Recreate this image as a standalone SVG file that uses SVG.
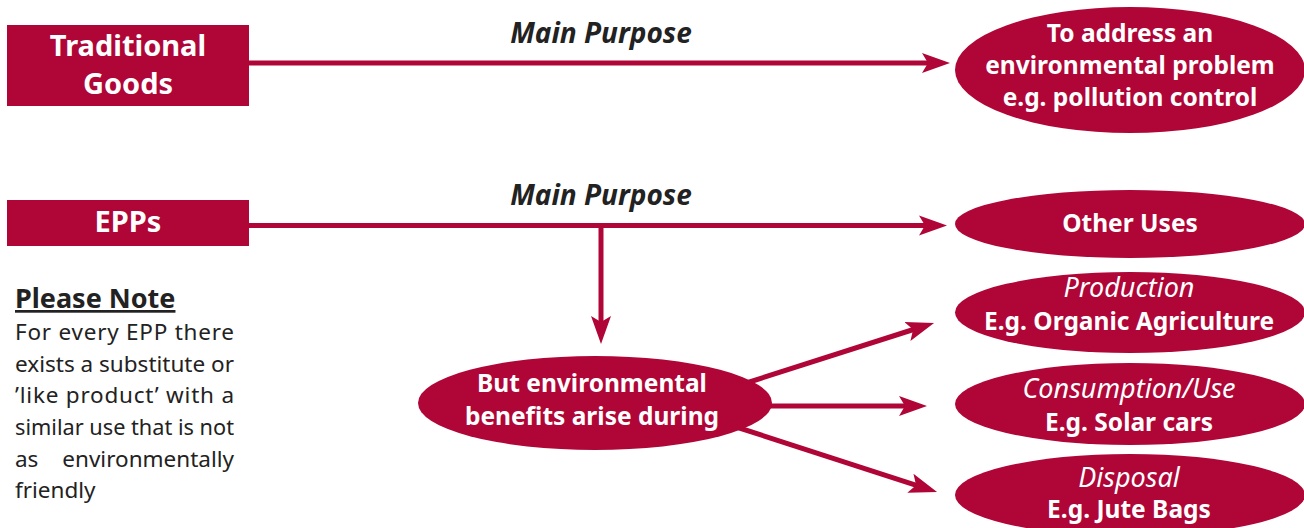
<svg xmlns="http://www.w3.org/2000/svg" width="1304" height="528" viewBox="0 0 1304 528">
<style>
.box{fill:#B00537}
.lbl{font-family:"Noto Sans","Liberation Sans",sans-serif;font-weight:bold;fill:#fff;text-anchor:middle}
.big{font-size:29px}
.mid{font-size:24.5px}
.it{font-family:"Noto Sans","Liberation Sans",sans-serif;font-style:italic;font-size:27px;fill:#fff;text-anchor:middle}
.mp{font-family:"Noto Sans","Liberation Sans",sans-serif;font-style:italic;font-weight:bold;font-size:28px;fill:#222;text-anchor:middle}
.note{font-family:"Noto Sans","Liberation Sans",sans-serif;font-size:22.5px;fill:#222}
.conn{stroke:#B00537;stroke-width:5;fill:none;marker-end:url(#ah)}
</style>
<defs>
<marker id="ah" markerUnits="userSpaceOnUse" markerWidth="30" markerHeight="22" viewBox="0 0 30 22" refX="8" refY="11" orient="auto">
<path d="M0,1 L28,11 L0,21 L6,11 Z" fill="#B00537"/>
</marker>
</defs>
<rect width="1304" height="528" fill="#fff"/>
<g id="connectors">
<line class="conn" x1="249" y1="63" x2="930" y2="63"/>
<line class="conn" x1="249" y1="225.5" x2="927" y2="225.5"/>
<line class="conn" x1="601" y1="225" x2="601" y2="324"/>
<line class="conn" x1="740" y1="385" x2="915" y2="329"/>
<line class="conn" x1="760" y1="406" x2="907" y2="406"/>
<line class="conn" x1="730" y1="425" x2="918" y2="485.8"/>
</g>
<g id="label-main-purpose-1"><text class="mp" x="601" y="43">Main Purpose</text></g>
<g id="label-main-purpose-2"><text class="mp" x="601" y="205">Main Purpose</text></g>
<g id="traditional-goods">
<rect class="box" x="7" y="25" width="242" height="81"/>
<text class="lbl big" x="128" y="56">Traditional</text>
<text class="lbl big" x="128" y="94">Goods</text>
</g>
<g id="epps">
<rect class="box" x="7" y="200" width="242" height="46"/>
<text class="lbl big" x="128" y="232">EPPs</text>
</g>
<g id="env-problem">
<ellipse class="box" cx="1130" cy="70" rx="175" ry="63"/>
<text class="lbl mid" x="1130" y="42">To address an</text>
<text class="lbl mid" x="1130" y="74">environmental problem</text>
<text class="lbl mid" x="1130" y="106">e.g. pollution control</text>
</g>
<g id="other-uses">
<ellipse class="box" cx="1130" cy="224" rx="175" ry="34"/>
<text class="lbl mid" x="1130" y="232">Other Uses</text>
</g>
<g id="benefits">
<ellipse class="box" cx="595" cy="403" rx="177" ry="47"/>
<text class="lbl mid" x="592" y="392">But environmental</text>
<text class="lbl mid" x="592" y="425">benefits arise during</text>
</g>
<g id="production">
<ellipse class="box" cx="1130" cy="312.5" rx="175" ry="40.5"/>
<text class="it" x="1129" y="297">Production</text>
<text class="lbl mid" x="1129" y="330">E.g. Organic Agriculture</text>
</g>
<g id="consumption">
<ellipse class="box" cx="1130" cy="404" rx="175" ry="41"/>
<text class="it" x="1129" y="398">Consumption/Use</text>
<text class="lbl mid" x="1129" y="431">E.g. Solar cars</text>
</g>
<g id="disposal">
<ellipse class="box" cx="1130" cy="495" rx="175" ry="41"/>
<text class="it" x="1129" y="487">Disposal</text>
<text class="lbl mid" x="1129" y="518">E.g. Jute Bags</text>
</g>
<g id="please-note">
<text class="note" x="15" y="308" style="font-weight:bold;font-size:27px;text-decoration:underline">Please Note</text>
<text class="note" x="15" y="340" textLength="219" lengthAdjust="spacing">For every EPP there</text>
<text class="note" x="15" y="372" textLength="219" lengthAdjust="spacingAndGlyphs">exists a substitute or</text>
<text class="note" x="15" y="403" textLength="219" lengthAdjust="spacing">’like product’ with a</text>
<text class="note" x="15" y="435" textLength="219" lengthAdjust="spacingAndGlyphs">similar use that is not</text>
<text class="note" x="15" y="467">as</text>
<text class="note" x="234" y="467" text-anchor="end">environmentally</text>
<text class="note" x="15" y="498">friendly</text>
</g>
</svg>
